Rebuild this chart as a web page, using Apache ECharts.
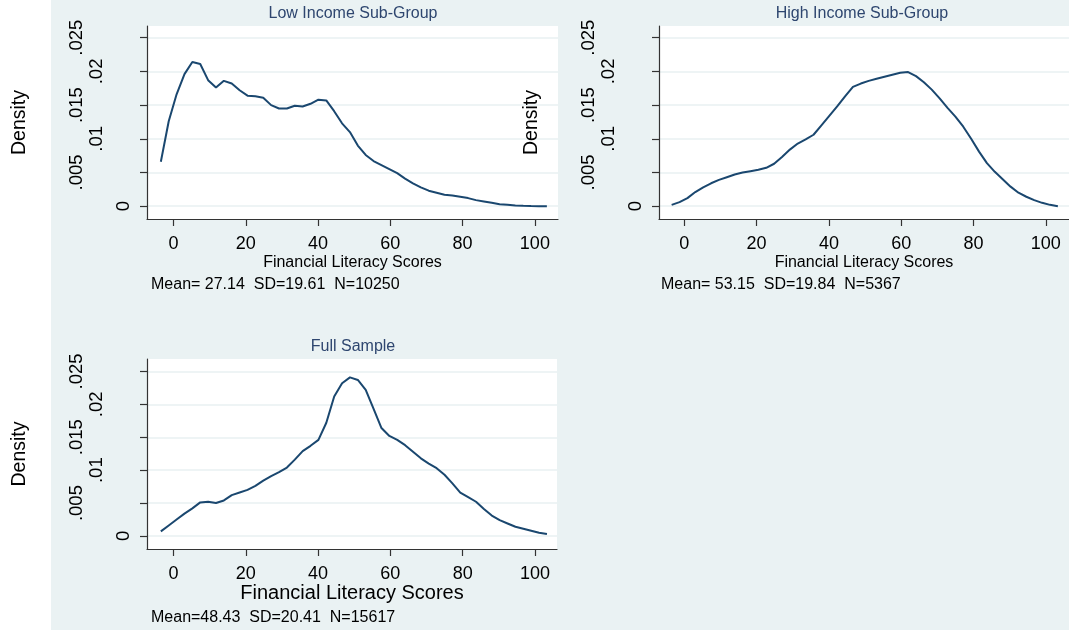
<!DOCTYPE html>
<html>
<head>
<meta charset="utf-8">
<script src="https://cdn.jsdelivr.net/npm/echarts@6/dist/echarts.min.js"></script>
<style>
  html, body { margin: 0; padding: 0; background: #fff; }
  #chart {
    width: 1069px; height: 630px;
    background: linear-gradient(to right, #fff 0, #fff 51px, #eaf2f3 51px, #eaf2f3 100%);
  }
</style>
</head>
<body>
<div id="chart"></div>
<script>
// Kernel density estimates of financial literacy scores, evaluated at 50 points
const scorePoints = [
  -3.50, -1.32, 0.86, 3.04, 5.22, 7.40, 9.58, 11.76, 13.94, 16.12,
  18.30, 20.48, 22.66, 24.84, 27.02, 29.20, 31.38, 33.56, 35.74, 37.92,
  40.10, 42.28, 44.46, 46.64, 48.82, 51.00, 53.18, 55.36, 57.54, 59.72,
  61.90, 64.08, 66.26, 68.44, 70.62, 72.80, 74.98, 77.16, 79.34, 81.52,
  83.70, 85.88, 88.06, 90.24, 92.42, 94.60, 96.78, 98.96, 101.14, 103.32
];
const lowIncomeDensity = [
  0.0066, 0.0126, 0.0166, 0.0196, 0.0214, 0.0211, 0.0187, 0.0176, 0.0186, 0.0182,
  0.0172, 0.0164, 0.0163, 0.0161, 0.0150, 0.0145, 0.0145, 0.0149, 0.0148, 0.0152,
  0.0158, 0.0157, 0.0141, 0.0123, 0.0110, 0.0090, 0.0076, 0.0067, 0.0061, 0.0055,
  0.0049, 0.0041, 0.0034, 0.0028, 0.0023, 0.0020, 0.0017, 0.0016, 0.0014, 0.0012,
  0.0009, 0.0007, 0.0005, 0.0003, 0.0002, 0.0001, 0.00005, 0.00002, 0.00001, 0.0
];
const highIncomeDensity = [
  0.0002, 0.0006, 0.0012, 0.0021, 0.0028, 0.0034, 0.0039, 0.0043, 0.0047, 0.0050,
  0.0052, 0.0054, 0.0057, 0.0063, 0.0073, 0.0084, 0.0093, 0.0099, 0.0106, 0.0120,
  0.0134, 0.0148, 0.0163, 0.0177, 0.0182, 0.0186, 0.0189, 0.0192, 0.0195, 0.0198,
  0.0199, 0.0193, 0.0184, 0.0173, 0.0160, 0.0146, 0.0133, 0.0118, 0.0100, 0.0081,
  0.0064, 0.0051, 0.0040, 0.0029, 0.0020, 0.0014, 0.0009, 0.0005, 0.0002, 0.0
];
const fullSampleDensity = [
  0.0007, 0.0016, 0.0025, 0.0034, 0.0042, 0.0051, 0.0052, 0.0050, 0.0054, 0.0062,
  0.0066, 0.0070, 0.0076, 0.0084, 0.0091, 0.0097, 0.0104, 0.0116, 0.0129, 0.0137,
  0.0146, 0.0172, 0.0212, 0.0232, 0.0241, 0.0237, 0.0222, 0.0193, 0.0164, 0.0152,
  0.0146, 0.0138, 0.0128, 0.0118, 0.0110, 0.0103, 0.0093, 0.0080, 0.0066, 0.0059,
  0.0052, 0.0041, 0.0031, 0.0024, 0.0019, 0.0014, 0.0011, 0.0008, 0.0005, 0.0003
];

const panelTitles = ['Low Income Sub-Group', 'High Income Sub-Group', 'Full Sample'];
const panelNotes = [
  'Mean= 27.14  SD=19.61  N=10250',
  'Mean= 53.15  SD=19.84  N=5367',
  'Mean=48.43  SD=20.41  N=15617'
];
const xAxisTitle = 'Financial Literacy Scores';
const yAxisTitle = 'Density';
const xTickValues = [0, 20, 40, 60, 80, 100];
const yTickValues = [0, 0.005, 0.01, 0.015, 0.02, 0.025];
const yTickLabels = ['0', '.005', '.01', '.015', '.02', '.025'];
// staggered label rows, nearest the axis first
const yLabelRows = [[0], [0.01, 0.02], [0.005, 0.015, 0.025]];

const FONT = '"Liberation Sans", Arial, Helvetica, sans-serif';
const LINE_COLOR = '#1a476f';
const AXIS_COLOR = '#333333';
const GRID_LINE = '#e9f1f2';
const TITLE_COLOR = '#2e466f';

// plot regions of the three panels
const panels = [
  { grid: { left: 147, top: 26, width: 411, height: 193 }, x: [-7.33, 106.4], y: [-0.0019, 0.02674],
    xNameSize: 16, xNameGap: 36, title: [353, 14], note: [151, 285] },
  { grid: { left: 659, top: 26, width: 410, height: 193 }, x: [-7.0, 106.4], y: [-0.0019, 0.02674],
    xNameSize: 16, xNameGap: 36, title: [862, 14], note: [661, 285] },
  { grid: { left: 147, top: 359, width: 410, height: 190 }, x: [-7.33, 106.1], y: [-0.00198, 0.02689],
    xNameSize: 20, xNameGap: 33, title: [353, 347], note: [151, 618] }
];
const densities = [lowIncomeDensity, highIncomeDensity, fullSampleDensity];

function yLabelText(v) {
  const i = yTickValues.findIndex(t => Math.abs(t - v) < 1e-9);
  return i >= 0 ? yTickLabels[i] : '';
}

const grids = [], xAxes = [], yAxes = [], series = [], graphics = [];
const labelMargins = [14, 41, 61];

panels.forEach((p, gi) => {
  grids.push(Object.assign({ show: true, backgroundColor: '#ffffff', borderWidth: 0,
    containLabel: false, outerBoundsMode: 'none' }, p.grid));

  xAxes.push({
    type: 'value', gridIndex: gi, min: p.x[0], max: p.x[1],
    name: xAxisTitle, nameLocation: 'middle', nameGap: p.xNameGap,
    nameTextStyle: { fontFamily: FONT, fontSize: p.xNameSize, color: '#000' },
    axisLine: { show: true, onZero: false, lineStyle: { color: AXIS_COLOR, width: 1.2 } },
    axisTick: { show: true, length: 7, customValues: xTickValues, lineStyle: { color: AXIS_COLOR, width: 1.2 } },
    axisLabel: { customValues: xTickValues, margin: 16, fontFamily: FONT, fontSize: 18, color: '#000' },
    splitLine: { show: false }
  });

  const firstY = yAxes.length;
  yLabelRows.forEach((row, ri) => {
    const ax = {
      type: 'value', gridIndex: gi, position: 'left', offset: 0, min: p.y[0], max: p.y[1],
      axisLine: { show: ri === 0, onZero: false, lineStyle: { color: AXIS_COLOR, width: 1.2 } },
      axisTick: { show: ri === 0, length: 7, customValues: yTickValues, lineStyle: { color: AXIS_COLOR, width: 1.2 } },
      splitLine: { show: ri === 0, lineStyle: { color: GRID_LINE, width: 1.6 } },
      axisLabel: { customValues: row, rotate: 90, margin: labelMargins[ri], formatter: yLabelText,
        fontFamily: FONT, fontSize: 18.5, color: '#000' }
    };
    if (ri === 0) {
      ax.name = yAxisTitle;
      ax.nameLocation = 'middle';
      ax.nameGap = 117;
      ax.nameTextStyle = { fontFamily: FONT, fontSize: 19.5, color: '#000' };
    }
    yAxes.push(ax);
  });

  series.push({
    type: 'line', xAxisIndex: gi, yAxisIndex: firstY, symbol: 'none', smooth: false,
    lineStyle: { color: LINE_COLOR, width: 2 }, silent: true, animation: false,
    data: scorePoints.map((s, i) => [s, densities[gi][i]])
  });

  graphics.push({
    type: 'text', x: p.title[0], y: p.title[1], silent: true,
    style: { text: panelTitles[gi], fontFamily: FONT, fontSize: 16, fill: TITLE_COLOR,
      align: 'center', verticalAlign: 'middle' }
  });
  graphics.push({
    type: 'text', x: p.note[0], y: p.note[1], silent: true,
    style: { text: panelNotes[gi], fontFamily: FONT, fontSize: 16, fill: '#000',
      align: 'left', verticalAlign: 'middle' }
  });
});

const chart = echarts.init(document.getElementById('chart'), null, { renderer: 'canvas' });
chart.setOption({
  backgroundColor: 'transparent',
  animation: false,
  grid: grids,
  xAxis: xAxes,
  yAxis: yAxes,
  series: series,
  graphic: graphics
});
</script>
</body>
</html>
